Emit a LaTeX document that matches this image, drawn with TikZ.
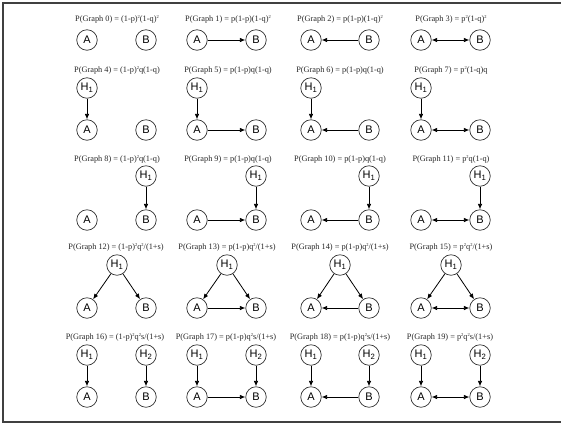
\documentclass[tikz,border=0pt]{standalone}
\usepackage{fontspec}
\setmainfont{Liberation Serif}
\newfontfamily\nodefont{Liberation Sans}
\usetikzlibrary{arrows.meta}
\newcommand\sqq{\raisebox{0.75ex}{\fontsize{4.5}{5}\selectfont 2}}
\begin{document}
\begin{tikzpicture}[x=1pt,y=-1pt,
 vtx/.style={circle,draw=black!80,line width=0.7pt,minimum size=20.5pt,inner sep=0pt,font=\nodefont\fontsize{11}{11}\selectfont},
 ttl/.style={font=\fontsize{8.3}{9}\selectfont,text=black!85,inner sep=0pt},
 edge/.style={-{Latex[length=5.5pt,width=4.5pt]},line width=0.8pt},
 bi/.style={{Latex[length=5.5pt,width=4.5pt]}-{Latex[length=5.5pt,width=4.5pt]},line width=0.8pt},
 frame/.style={draw=black!75,line width=1.3pt}]
\useasboundingbox (0,0) rectangle (561,424);
\draw[frame] (561,3) -- (3,3) -- (3,422) -- (561,422);
% ---------- Row 1
\node[ttl] (t0) at (117,19) {P(Graph 0) = (1-p)\sqq(1-q)\sqq};
\node[vtx] (a0) at (87,40) {A};
\node[vtx] (b0) at (146,40) {B};
\node[ttl] (t1) at (228,19) {P(Graph 1) = p(1-p)(1-q)\sqq};
\node[vtx] (a1) at (197,40) {A};
\node[vtx] (b1) at (256,40) {B};
\draw[edge] (a1) -- (b1);
\node[ttl] (t2) at (340,19) {P(Graph 2) = p(1-p)(1-q)\sqq};
\node[vtx] (a2) at (311,40) {A};
\node[vtx] (b2) at (369,40) {B};
\draw[edge] (b2) -- (a2);
\node[ttl] (t3) at (451,19) {P(Graph 3) = p\sqq(1-q)\sqq};
\node[vtx] (a3) at (421,40) {A};
\node[vtx] (b3) at (480,40) {B};
\draw[bi] (a3) -- (b3);
% ---------- Row 2
\node[ttl] (t4) at (117,70) {P(Graph 4) = (1-p)\sqq q(1-q)};
\node[vtx] (h4) at (87,88) {H\textsubscript{1}};
\node[vtx] (a4) at (87,130) {A};
\node[vtx] (b4) at (146,130) {B};
\draw[edge] (h4) -- (a4);
\node[ttl] (t5) at (228,70) {P(Graph 5) = p(1-p)q(1-q)};
\node[vtx] (h5) at (197,88) {H\textsubscript{1}};
\node[vtx] (a5) at (197,130) {A};
\node[vtx] (b5) at (256,130) {B};
\draw[edge] (h5) -- (a5);
\draw[edge] (a5) -- (b5);
\node[ttl] (t6) at (340,70) {P(Graph 6) = p(1-p)q(1-q)};
\node[vtx] (h6) at (311,88) {H\textsubscript{1}};
\node[vtx] (a6) at (311,130) {A};
\node[vtx] (b6) at (369,130) {B};
\draw[edge] (h6) -- (a6);
\draw[edge] (b6) -- (a6);
\node[ttl] (t7) at (451,70) {P(Graph 7) = p\sqq(1-q)q};
\node[vtx] (h7) at (421,88) {H\textsubscript{1}};
\node[vtx] (a7) at (421,130) {A};
\node[vtx] (b7) at (480,130) {B};
\draw[edge] (h7) -- (a7);
\draw[bi] (a7) -- (b7);
% ---------- Row 3
\node[ttl] (t8) at (117,159) {P(Graph 8) = (1-p)\sqq q(1-q)};
\node[vtx] (h8) at (146,176) {H\textsubscript{1}};
\node[vtx] (a8) at (87,220) {A};
\node[vtx] (b8) at (146,220) {B};
\draw[edge] (h8) -- (b8);
\node[ttl] (t9) at (228,159) {P(Graph 9) = p(1-p)q(1-q)};
\node[vtx] (h9) at (256,176) {H\textsubscript{1}};
\node[vtx] (a9) at (197,220) {A};
\node[vtx] (b9) at (256,220) {B};
\draw[edge] (h9) -- (b9);
\draw[edge] (a9) -- (b9);
\node[ttl] (t10) at (340,159) {P(Graph 10) = p(1-p)q(1-q)};
\node[vtx] (h10) at (369,176) {H\textsubscript{1}};
\node[vtx] (a10) at (311,220) {A};
\node[vtx] (b10) at (369,220) {B};
\draw[edge] (h10) -- (b10);
\draw[edge] (b10) -- (a10);
\node[ttl] (t11) at (451,159) {P(Graph 11) = p\sqq q(1-q)};
\node[vtx] (h11) at (480,176) {H\textsubscript{1}};
\node[vtx] (a11) at (421,220) {A};
\node[vtx] (b11) at (480,220) {B};
\draw[edge] (h11) -- (b11);
\draw[bi] (a11) -- (b11);
% ---------- Row 4
\node[ttl] (t12) at (116,247) {P(Graph 12) = (1-p)\sqq q\sqq/(1+s)};
\node[vtx] (h12) at (117,265) {H\textsubscript{1}};
\node[vtx] (a12) at (87,308) {A};
\node[vtx] (b12) at (146,308) {B};
\draw[edge] (h12) -- (a12);
\draw[edge] (h12) -- (b12);
\node[ttl] (t13) at (227,247) {P(Graph 13) = p(1-p)q\sqq/(1+s)};
\node[vtx] (h13) at (227,265) {H\textsubscript{1}};
\node[vtx] (a13) at (197,308) {A};
\node[vtx] (b13) at (256,308) {B};
\draw[edge] (h13) -- (a13);
\draw[edge] (h13) -- (b13);
\draw[edge] (a13) -- (b13);
\node[ttl] (t14) at (340,247) {P(Graph 14) = p(1-p)q\sqq/(1+s)};
\node[vtx] (h14) at (340,265) {H\textsubscript{1}};
\node[vtx] (a14) at (311,308) {A};
\node[vtx] (b14) at (369,308) {B};
\draw[edge] (h14) -- (a14);
\draw[edge] (h14) -- (b14);
\draw[edge] (b14) -- (a14);
\node[ttl] (t15) at (451,247) {P(Graph 15) = p\sqq q\sqq/(1+s)};
\node[vtx] (h15) at (451,265) {H\textsubscript{1}};
\node[vtx] (a15) at (421,308) {A};
\node[vtx] (b15) at (480,308) {B};
\draw[edge] (h15) -- (a15);
\draw[edge] (h15) -- (b15);
\draw[bi] (a15) -- (b15);
% ---------- Row 5
\node[ttl] (t16) at (115,337) {P(Graph 16) = (1-p)\sqq q\sqq s/(1+s)};
\node[vtx] (h16) at (87,355) {H\textsubscript{1}};
\node[vtx] (k16) at (146,355) {H\textsubscript{2}};
\node[vtx] (a16) at (87,397) {A};
\node[vtx] (b16) at (146,397) {B};
\draw[edge] (h16) -- (a16);
\draw[edge] (k16) -- (b16);
\node[ttl] (t17) at (226,337) {P(Graph 17) = p(1-p)q\sqq s/(1+s)};
\node[vtx] (h17) at (197,355) {H\textsubscript{1}};
\node[vtx] (k17) at (256,355) {H\textsubscript{2}};
\node[vtx] (a17) at (197,397) {A};
\node[vtx] (b17) at (256,397) {B};
\draw[edge] (h17) -- (a17);
\draw[edge] (k17) -- (b17);
\draw[edge] (a17) -- (b17);
\node[ttl] (t18) at (340,337) {P(Graph 18) = p(1-p)q\sqq s/(1+s)};
\node[vtx] (h18) at (311,355) {H\textsubscript{1}};
\node[vtx] (k18) at (369,355) {H\textsubscript{2}};
\node[vtx] (a18) at (311,397) {A};
\node[vtx] (b18) at (369,397) {B};
\draw[edge] (h18) -- (a18);
\draw[edge] (k18) -- (b18);
\draw[edge] (b18) -- (a18);
\node[ttl] (t19) at (450,337) {P(Graph 19) = p\sqq q\sqq s/(1+s)};
\node[vtx] (h19) at (421,355) {H\textsubscript{1}};
\node[vtx] (k19) at (480,355) {H\textsubscript{2}};
\node[vtx] (a19) at (421,397) {A};
\node[vtx] (b19) at (480,397) {B};
\draw[edge] (h19) -- (a19);
\draw[edge] (k19) -- (b19);
\draw[bi] (a19) -- (b19);
\end{tikzpicture}
\end{document}
